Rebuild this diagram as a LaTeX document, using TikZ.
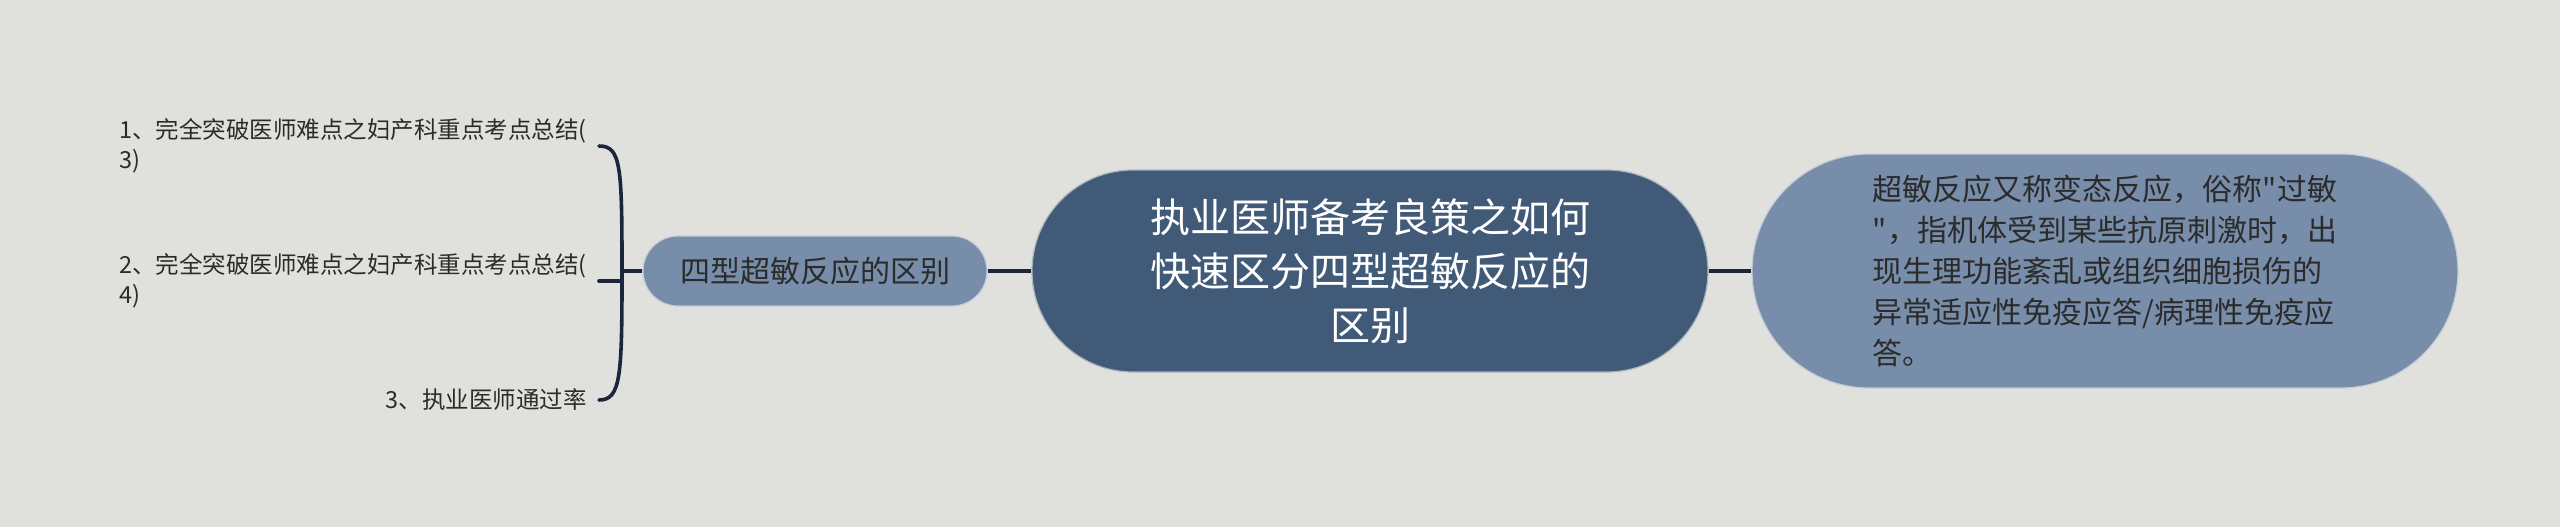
\documentclass[tikz,border=0pt]{standalone}
\usepackage{fontspec}
\setmainfont{Noto Sans CJK SC}[Ligatures=TeXOff]
\usetikzlibrary{positioning}
\definecolor{bgc}{HTML}{E0E1DD}
\definecolor{deepc}{HTML}{415A77}
\definecolor{softc}{HTML}{778DA9}
\definecolor{inkc}{HTML}{1B263B}
\definecolor{textc}{HTML}{2B2B2B}
\tikzset{
    rootnode/.style = {rectangle, rounded corners=50.5pt, draw=white!55!deepc, line width=0.6pt, fill=deepc, minimum width=338pt, minimum height=101pt, align=center, text=white, font=\fontsize{20pt}{27pt}\selectfont},
    subnode/.style = {rectangle, rounded corners=17.5pt, draw=white!55!softc, line width=0.6pt, fill=softc, minimum width=172pt, minimum height=35pt, align=center, text=textc, font=\fontsize{15pt}{20.5pt}\selectfont},
    notenode/.style = {rectangle, rounded corners=58.5pt, draw=white!55!softc, line width=0.6pt, fill=softc, minimum width=353pt, minimum height=117pt, align=left, text=textc, font=\fontsize{15pt}{20.5pt}\selectfont},
    leafnode/.style = {anchor=east, align=left, inner xsep=6pt, inner ysep=0pt, text=textc, font=\fontsize{11.75pt}{15pt}\selectfont},
    edgen/.style = {-, line width=2pt, inkc}, % main links
    edgeb/.style = {-, line width=1.8pt, inkc, line cap=round}, % bracket
}
\begin{document}
\begin{tikzpicture}[x=0.5pt,y=-0.5pt]
\fill[bgc] (0,0) rectangle (2560,527);
\node[rootnode] at (1370,271) (main) {执业医师备考良策之如何\\快速区分四型超敏反应的\\区别};
\node[subnode] at (815,271) (sub) {四型超敏反应的区别};
\node[notenode] at (2105,271) (note) {超敏反应又称变态反应，俗称"过敏\\"，指机体受到某些抗原刺激时，出\\现生理功能紊乱或组织细胞损伤的\\异常适应性免疫应答/病理性免疫应\\答。};
\node[leafnode] at (599,146) (leafa) {1、完全突破医师难点之妇产科重点考点总结(\\3)};
\node[leafnode] at (599,281) (leafb) {2、完全突破医师难点之妇产科重点考点总结(\\4)};
\node[leafnode] at (599,400) (leafc) {3、执业医师通过率};
\coordinate (hub) at (622,271);
%
\draw[edgen] (sub) edge node {} (main);
\draw[edgen] (main) edge node {} (note);
\draw[edgen] (hub) -- (sub.west);
%
\draw[edgeb] (hub) .. controls +(0,-105) and +(22,0) .. (leafa.east);
\draw[edgeb] (hub) |- (leafb.east);
\draw[edgeb] (hub) .. controls +(0,105) and +(22,0) .. (leafc.east);
\end{tikzpicture}
\end{document}
